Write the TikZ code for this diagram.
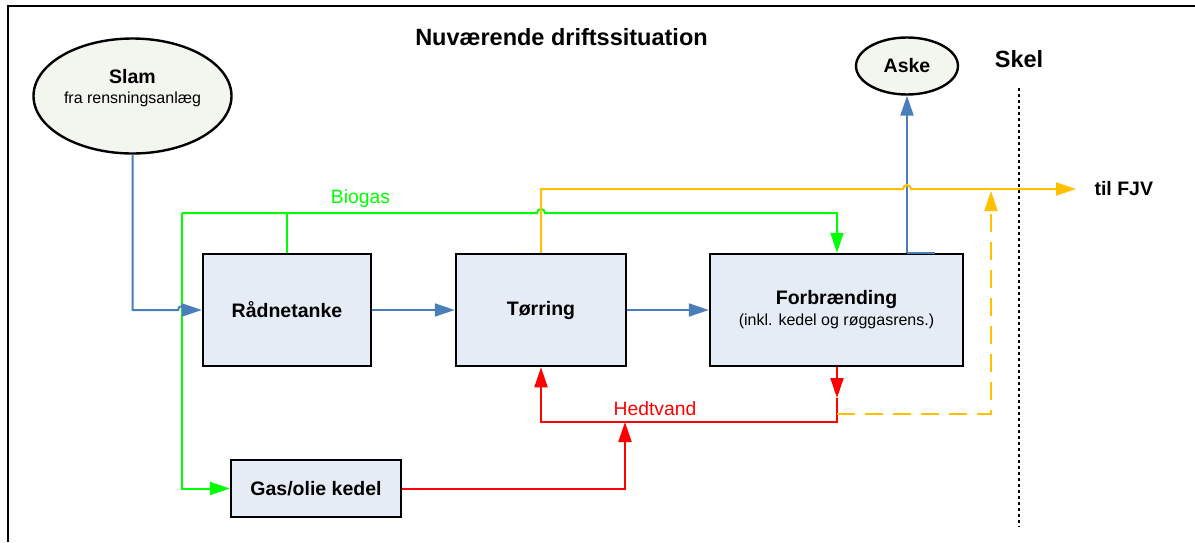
\documentclass[tikz,border=0pt]{standalone}
\usepackage{fontspec}
\setmainfont{Liberation Sans}
\usetikzlibrary{arrows.meta,shapes.geometric}

\definecolor{flowblue}{RGB}{74,126,187}
\definecolor{gasgreen}{RGB}{0,255,0}
\definecolor{hotred}{RGB}{255,0,0}
\definecolor{fjvyellow}{RGB}{255,192,0}
\definecolor{boxfill}{RGB}{230,236,246}
\definecolor{srcfill}{RGB}{243,245,239}

\newcommand\boxfont{\fontsize{19.5}{23}\selectfont\bfseries}
\newcommand\notefont{\fontsize{16}{19}\selectfont\mdseries}
\newcommand\lblfont{\fontsize{19.3}{23}\selectfont}
\newcommand\headfont{\fontsize{23.5}{28}\selectfont\bfseries}

\begin{document}
\begin{tikzpicture}[x=1pt, y=1pt,
    process/.style={draw, fill=boxfill, line width=2.5pt, inner sep=0pt, font=\boxfont},
    source/.style={ellipse, draw, fill=srcfill, line width=2.4pt, inner sep=0pt},
    pipe/.style={line width=2pt},
    sludge/.style={pipe, flowblue},
    gas/.style={pipe, gasgreen},
    heat/.style={pipe, hotred},
    fjv/.style={pipe, fjvyellow},
    tip/.style={-{Triangle[length=20pt, width=13pt]}},
  ]
    \useasboundingbox (0,0) rectangle (1195,-542);
    \draw[line width=2.4pt] (8,-542) -- (8,-6) -- (1195,-6);

    \node[font=\headfont, anchor=base] (title) at (561.5,-45) {Nuværende driftssituation};
    \node[font=\headfont, anchor=base] (skel) at (1019,-67) {Skel};

    \node[source, minimum width=198pt, minimum height=115pt] (slam) at (132.5,-96) {};
    \node[align=center, font=\notefont, anchor=base] (slamtxt) at (132.5,-103)
      {{\boxfont Slam}\\[1pt]fra rensningsanlæg};
    \node[source, minimum width=102pt, minimum height=57pt, font=\boxfont] (aske) at (907,-66) {Aske};

    \node[process, minimum width=168pt, minimum height=112pt] (raad) at (287,-310) {Rådnetanke};
    \node[process, minimum width=170pt, minimum height=112pt] (torr) at (541,-310) {Tørring};
    \node[process, minimum width=253pt, minimum height=112pt, align=center] (forb) at (836.5,-310)
      {Forbrænding\\[-2pt]{\notefont (inkl. kedel og røggasrens.)}};
    \node[process, minimum width=170pt, minimum height=57pt] (kedel) at (316,-488.5) {Gas/olie kedel};

    \node[text=gasgreen, font=\lblfont, anchor=base] (biogas) at (360.5,-203.5) {Biogas};
    \node[text=hotred, font=\lblfont, anchor=base] (hedtvand) at (655,-415) {Hedtvand};
    \node[font=\boxfont, anchor=base west] (fjvtxt) at (1091,-195) {til FJV};

    \coordinate (gasL) at (182,-213);
    \coordinate (gasR) at (837,-213);
    \coordinate (hopg) at (541,-213);
    \coordinate (hops) at (182,-310);
    \coordinate (hopy) at (907,-189);
    \coordinate (fjv) at (1076,-189);
    \coordinate (redtip) at (837,-398);
    \coordinate (hedR) at (837,-422);
    \coordinate (hedM) at (625,-422);
    \coordinate (dashL) at (837,-414);
    \coordinate (dashR) at (991,-414);
    \coordinate (dashtop) at (991,-191);
    \coordinate (skeltop) at (1019,-88);
    \coordinate (skelbot) at (1019,-527);

    \draw[gas] (raad.north) -- (raad.north |- gasL);
    \draw[gas, tip] (gasL) |- (kedel.west);
    \draw[gas, tip] (gasL) -- ([xshift=-4pt]hopg) arc[start angle=180, end angle=0, radius=4pt]
      -- (gasR) -- (gasR |- forb.north);

    \draw[sludge, tip] (slam.south) |- ([xshift=-4pt]hops) arc[start angle=180, end angle=0, radius=4pt]
      -- (raad.west);
    \draw[sludge, tip] (raad.east) -- (torr.west);
    \draw[sludge, tip] (torr.east) -- (forb.west);
    \draw[sludge, tip] (forb.north -| aske.south) -- (aske.south);
    \draw[sludge] (forb.north -| aske.south) -- ++(28,0);

    \draw[fjv, tip] (torr.north) |- ([xshift=-4pt]hopy) arc[start angle=180, end angle=0, radius=4pt]
      -- (fjv);

    \draw[heat, tip] (forb.south -| redtip) -- (redtip);
    \draw[heat, tip] (redtip) -- (hedR) -| (torr.south);
    \draw[heat, tip] (kedel.east) -| (hedM);

    \draw[fjv, dash pattern=on 18pt off 10pt, tip] (dashL) -- (dashR) -- (dashtop);

    \draw[line width=2pt, dash pattern=on 3pt off 3pt] (skeltop) -- (skelbot);
\end{tikzpicture}
\end{document}
